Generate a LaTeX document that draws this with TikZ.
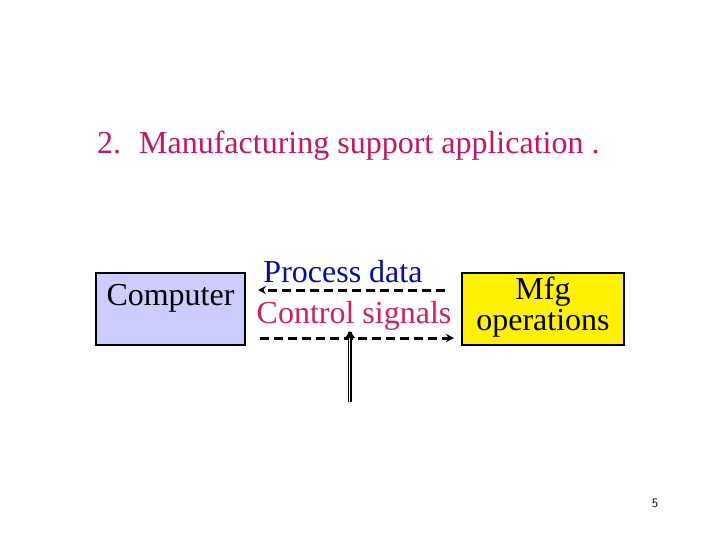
\documentclass[tikz,border=0pt]{standalone}
\usepackage{fontspec}
\setmainfont{Liberation Serif}
\usetikzlibrary{arrows.meta}
\definecolor{ttl}{RGB}{200,20,100}
\definecolor{pd}{RGB}{10,10,170}
\definecolor{cs}{RGB}{210,30,100}
\definecolor{cb}{RGB}{204,204,255}
\begin{document}
\begin{tikzpicture}[x=1pt,y=-1pt,
  box/.style={draw,line width=2pt,inner sep=0pt},
  dsh/.style={line width=3pt,dash pattern=on 9pt off 5pt,-{Stealth[length=8pt,width=8pt]}},
  txt/.style={font=\fontsize{32}{32}\selectfont}]
\useasboundingbox (0,0) rectangle (720,540);
\node[anchor=west,text=ttl,font=\fontsize{32}{34}\selectfont,inner sep=0pt] (title) at (97,146) {2.\hspace{18pt}Manufacturing support application .};
\node[box,fill=cb,minimum width=149pt,minimum height=72pt] (comp) at (170.5,309) {};
\node[txt,anchor=center] (ct) at (170.5,298) {Computer};
\node[box,fill=yellow,minimum width=162pt,minimum height=72pt] (mfg) at (543,309) {};
\node[align=center,font=\fontsize{32}{31}\selectfont] (mfgt) at (543,307) {Mfg\\operations};
\node[txt,text=pd] (pdl) at (343,272) {Process data};
\node[txt,text=cs] (csl) at (354,316) {Control signals};
\coordinate (a1) at (445,290); \coordinate (a2) at (258,290);
\coordinate (b1) at (260,338); \coordinate (b2) at (454,338);
\draw[dsh] (a1) -- (a2);
\draw[dsh] (b1) -- (b2);
\coordinate (v1) at (350,402); \coordinate (v2) at (350,332);
\draw[line width=4pt] (v1) -- (v2);
\draw[line width=2pt,white] (v1) -- ([yshift=3pt]v2);
\draw[line width=0.6pt] (v1) -- (v2);
\fill (v2) ++(-5,6) -- ++(5,-7) -- ++(5,7) -- cycle;
\node[font=\sffamily\fontsize{13}{14}\selectfont] (pg) at (655,503) {5};
\end{tikzpicture}
\end{document}
